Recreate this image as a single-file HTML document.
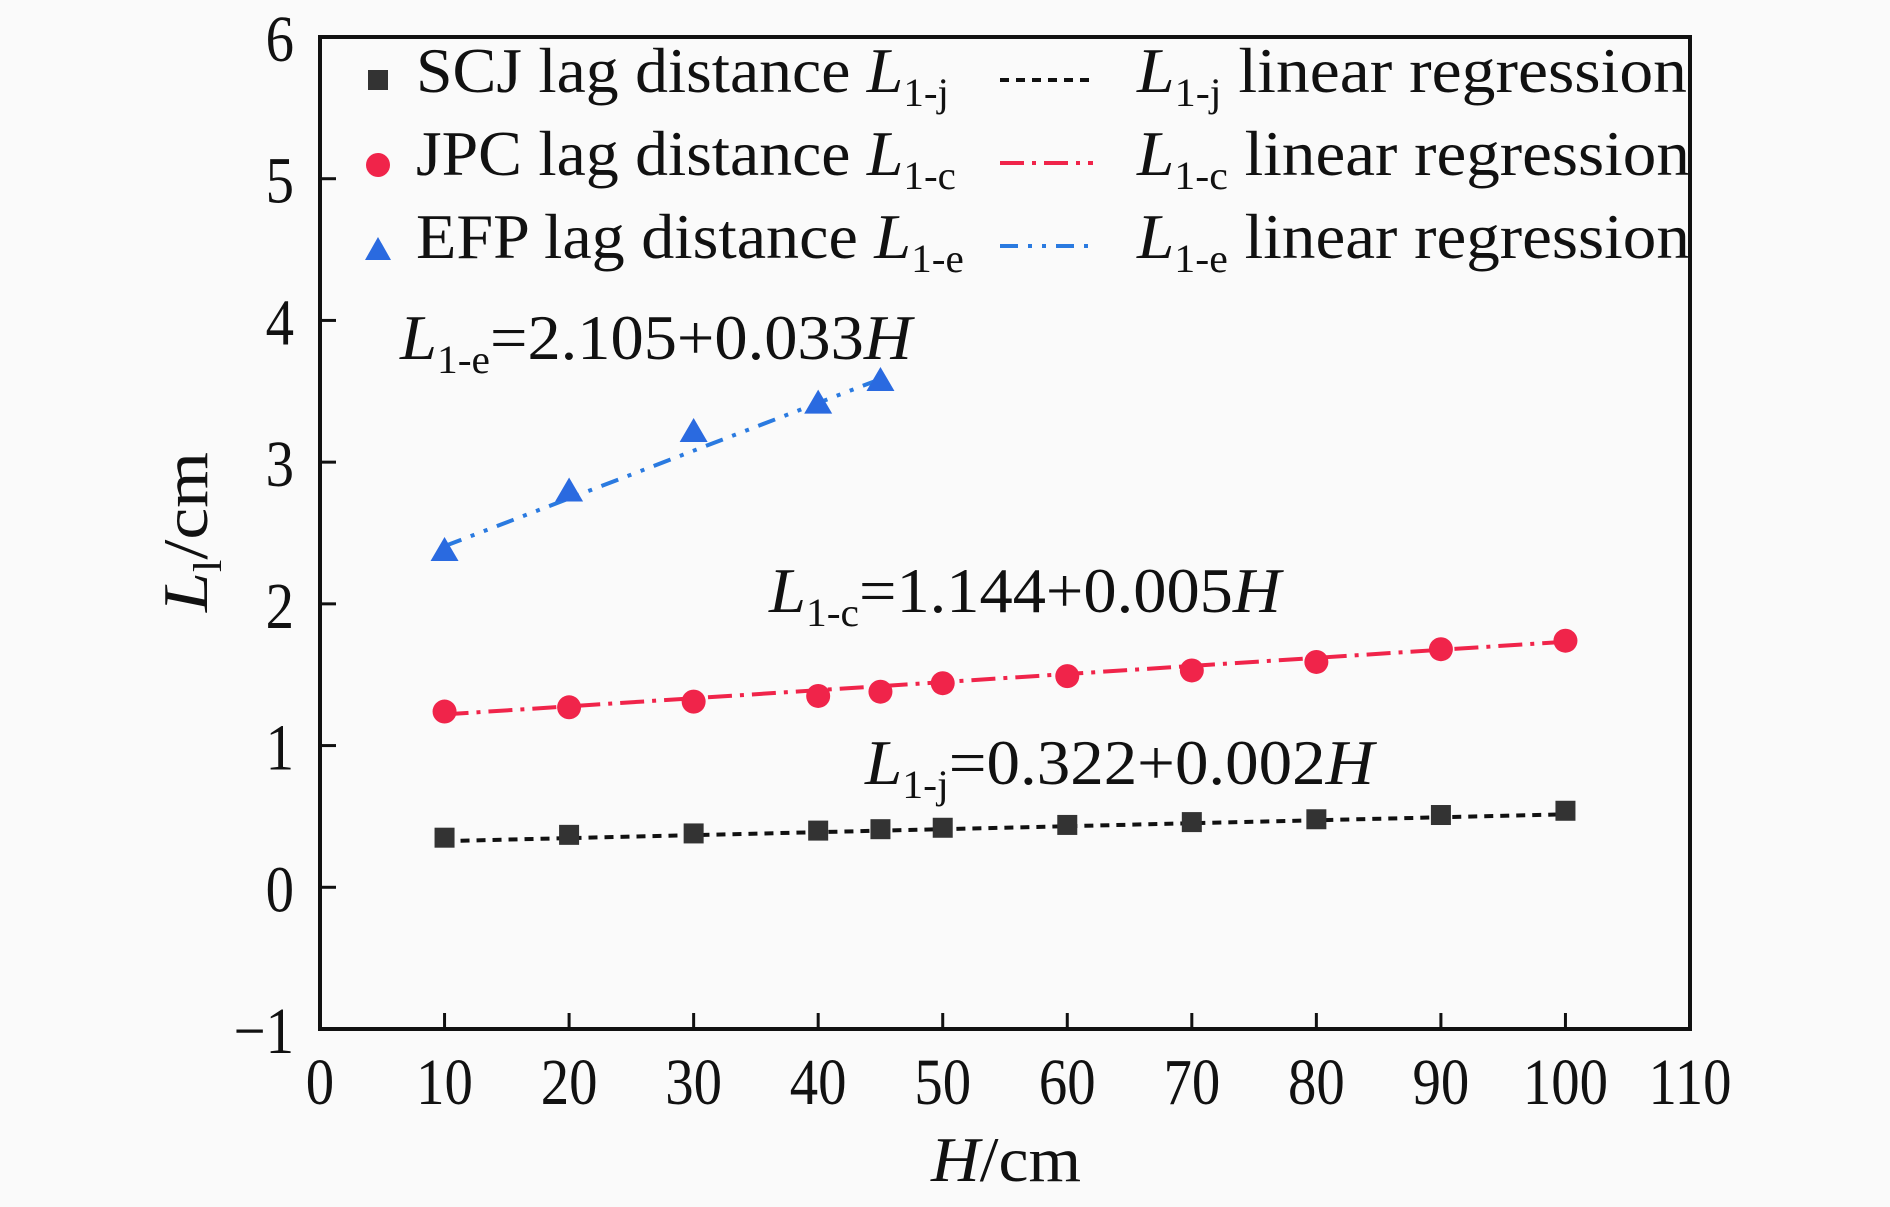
<!DOCTYPE html>
<html><head><meta charset="utf-8"><style>
html,body{margin:0;padding:0;background:#fafafa;}
svg{display:block;}
text{font-family:"Liberation Serif",serif;fill:#111;}
</style></head><body>
<svg id="chart" width="1890" height="1207" viewBox="0 0 1890 1207">
<rect x="0" y="0" width="1890" height="1207" fill="#fafafa"/>
<g id="marks"></g>
<rect x="320" y="37" width="1370" height="992" fill="none" stroke="#111" stroke-width="4"/>
<g id="axes"></g>
<g>
 <rect x="368" y="70" width="20" height="20" fill="#333"/>
 <text class="fit" data-w="533" x="416" y="92" font-size="64">SCJ lag distance <tspan font-style="italic">L</tspan><tspan font-size="40" dy="14">1-j</tspan></text>
 <circle cx="378" cy="165" r="12" fill="#f0244a"/>
 <text class="fit" data-w="540" x="416" y="175" font-size="64">JPC lag distance <tspan font-style="italic">L</tspan><tspan font-size="40" dy="14">1-c</tspan></text>
 <path d="M365,260 L378,237 L391,260 Z" fill="#2a6ae0"/>
 <text class="fit" data-w="548" x="416" y="258" font-size="64">EFP lag distance <tspan font-style="italic">L</tspan><tspan font-size="40" dy="14">1-e</tspan></text>
 <line x1="1000" y1="80" x2="1093" y2="80" stroke="#111" stroke-width="4" stroke-dasharray="9,7"/>
 <text class="fit" data-w="550" x="1137" y="92" font-size="64"><tspan font-style="italic">L</tspan><tspan font-size="40" dy="14">1-j</tspan><tspan dy="-14"> linear regression</tspan></text>
 <line x1="1000" y1="163" x2="1093" y2="163" stroke="#f0244a" stroke-width="4" stroke-dasharray="24,8,4,8"/>
 <text class="fit" data-w="553" x="1137" y="175" font-size="64"><tspan font-style="italic">L</tspan><tspan font-size="40" dy="14">1-c</tspan><tspan dy="-14"> linear regression</tspan></text>
 <line x1="1000" y1="246" x2="1093" y2="246" stroke="#2a7ae0" stroke-width="4" stroke-dasharray="18,10,4,10,4,10"/>
 <text class="fit" data-w="553" x="1137" y="258" font-size="64"><tspan font-style="italic">L</tspan><tspan font-size="40" dy="14">1-e</tspan><tspan dy="-14"> linear regression</tspan></text>
</g>
<text class="fit" data-w="512" x="400" y="359" font-size="64"><tspan font-style="italic">L</tspan><tspan font-size="40" dy="14">1-e</tspan><tspan dy="-14">=2.105+0.033</tspan><tspan font-style="italic">H</tspan></text>
<text class="fit" data-w="512" x="769" y="612" font-size="64"><tspan font-style="italic">L</tspan><tspan font-size="40" dy="14">1-c</tspan><tspan dy="-14">=1.144+0.005</tspan><tspan font-style="italic">H</tspan></text>
<text class="fit" data-w="509" x="865" y="784" font-size="64"><tspan font-style="italic">L</tspan><tspan font-size="40" dy="14">1-j</tspan><tspan dy="-14">=0.322+0.002</tspan><tspan font-style="italic">H</tspan></text>
<text class="fit" data-w="150" x="931" y="1181" font-size="64"><tspan font-style="italic">H</tspan>/cm</text>
<g transform="translate(207,612) rotate(-90)">
 <text class="fit" data-w="160" x="0" y="0" font-size="64"><tspan font-style="italic">L</tspan><tspan font-size="40" dy="14">l</tspan><tspan dy="-14">/cm</tspan></text>
</g>
</svg>
<script>
const xTicks=[0,10,20,30,40,50,60,70,80,90,100,110];
const yTicks=[-1,0,1,2,3,4,5,6];
const hScj=[10,20,30,40,45,50,60,70,80,90,100];
const scjVals=[0.35,0.37,0.38,0.40,0.41,0.42,0.44,0.46,0.48,0.51,0.54];
const hJpc=[10,20,30,40,45,50,60,70,80,90,100];
const jpcVals=[1.24,1.27,1.31,1.35,1.38,1.44,1.49,1.53,1.59,1.68,1.74];
const hEfp=[10,20,30,40,45];
const efpVals=[2.38,2.80,3.22,3.42,3.58];
const fitJ=[0.305,0.0021];
const fitC=[1.163,0.0057];
const fitE=[2.07,0.0337];
const NS='http://www.w3.org/2000/svg';
const X=v=>320+v*(1370/110);
const Y=v=>1029-(v+1)*(992/7);
const marks=document.getElementById('marks'),axes=document.getElementById('axes');
function mk(tag,attrs,parent){const e=document.createElementNS(NS,tag);for(const k in attrs)e.setAttribute(k,attrs[k]);parent.appendChild(e);return e;}
xTicks.forEach(t=>{
 if(t>0&&t<110){const l=mk('line',{x1:X(t),x2:X(t),y1:1029,y2:1013,stroke:'#111','stroke-width':3},axes);
 
 }
 const tx=mk('text',{x:X(t),y:1104,'font-size':66,'text-anchor':'middle',transform:`translate(${X(t)},0) scale(0.86,1) translate(${-X(t)},0)`},axes);
 tx.textContent=t;
 
 
});
yTicks.forEach(t=>{
 if(t>-1&&t<6){const l=mk('line',{x1:320,x2:336,y1:Y(t),y2:Y(t),stroke:'#111','stroke-width':3},axes);
 
 }
 const tx=mk('text',{x:294,y:Y(t)+24,'font-size':66,'text-anchor':'end',transform:`translate(294,0) scale(0.86,1) translate(-294,0)`},axes);
 tx.textContent=t<0?'\u2212'+(-t):t;
 
 
});
function fitLine(f,h0,h1,color,dash,name){
 const l=mk('line',{x1:X(h0),y1:Y(f[0]+f[1]*h0),x2:X(h1),y2:Y(f[0]+f[1]*h1),stroke:color,'stroke-width':4,'stroke-dasharray':dash},marks);
 
 
}
fitLine(fitJ,10,100,'#111','9,7','regression-line-j');
fitLine(fitC,10,100,'#f0244a','24,8,4,8','regression-line-c');
fitLine(fitE,10,45,'#2a7ae0','18,10,4,10,4,10','regression-line-e');
hScj.forEach((h,i)=>{const r=mk('rect',{x:X(h)-10,y:Y(scjVals[i])-10,width:20,height:20,fill:'#333'},marks);
 
 });
hJpc.forEach((h,i)=>{const c=mk('circle',{cx:X(h),cy:Y(jpcVals[i]),r:12,fill:'#f0244a'},marks);
 
 });
hEfp.forEach((h,i)=>{const x=X(h),y=Y(efpVals[i]);const p=mk('path',{d:`M${x-14},${y+11} L${x},${y-13} L${x+14},${y+11} Z`,fill:'#2a6ae0'},marks);
 
 });
document.querySelectorAll('text.fit').forEach(t=>{
 const w=+t.getAttribute('data-w');const cur=t.getComputedTextLength();
 if(cur>0){const s=w/cur;const x=+t.getAttribute('x');t.setAttribute('transform',`translate(${x},0) scale(${s},1) translate(${-x},0)`);}
});
</script>
</body></html>
